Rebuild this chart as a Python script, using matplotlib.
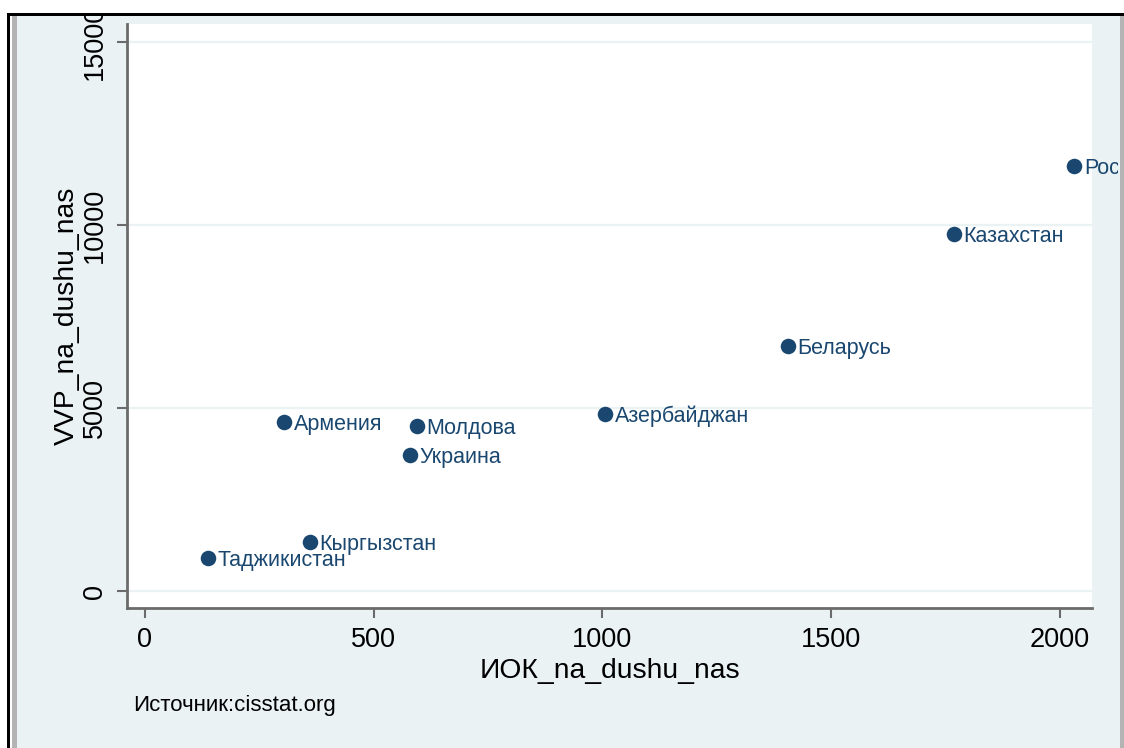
# Scatter of GDP per capita vs fixed capital investment per capita (CIS countries)

import matplotlib.pyplot as plt
from matplotlib.patches import Rectangle

# data
countries = ['Таджикистан', 'Кыргызстан', 'Армения', 'Молдова', 'Украина',
             'Азербайджан', 'Беларусь', 'Казахстан', 'Россия']
iok = [138, 361, 304, 595, 580, 1006, 1406, 1769, 2032]
vvp = [900, 1340, 4620, 4510, 3720, 4840, 6690, 9750, 11610]

x_ticks = [0, 500, 1000, 1500, 2000]
y_ticks = [0, 5000, 10000, 15000]

W, H = 1124, 748
navy = '#1a476f'
bg = '#eaf2f3'
axis_gray = '#6b6b6b'

plt.rcParams['font.family'] = ['Liberation Sans', 'DejaVu Sans']

fig = plt.figure(figsize=(W / 100, H / 100), dpi=100)
fig.patch.set_facecolor(bg)

# plot region in pixels: left 127, right 1092, top 24, bottom 608
ax = fig.add_axes([127 / W, 1 - 608 / H, (1092 - 127) / W, (608 - 24) / H])
ax.set_facecolor('white')

ax.set_xlim(-39, 2071)
ax.set_ylim(-464, 15492)

for yv in y_ticks:
    ax.axhline(yv, color=bg, lw=1.6, zorder=1)

ax.scatter(iok, vvp, s=125, color=navy, zorder=3, linewidths=0)
for name, xv, yv in zip(countries, iok, vvp):
    ax.annotate(name, (xv, yv), xytext=(7, -2), textcoords='offset points',
                ha='left', va='center', fontsize=15.5, color=navy,
                annotation_clip=False, zorder=4)

ax.set_xticks(x_ticks)
ax.set_yticks(y_ticks)
ax.set_yticklabels([str(v) for v in y_ticks], rotation=90, va='center')
ax.tick_params(axis='both', direction='out', length=7, width=1.5,
               color=axis_gray, labelsize=19.5, pad=7)

for s in ['top', 'right']:
    ax.spines[s].set_visible(False)
for s in ['left', 'bottom']:
    ax.spines[s].set_color(axis_gray)
    ax.spines[s].set_linewidth(2)

ax.set_xlabel('ИОК_na_dushu_nas', fontsize=20.3, labelpad=3)
ax.set_ylabel('VVP_na_dushu_nas', fontsize=20.3, labelpad=1)

fig.text(133 / W, 1 - 705 / H, 'Источник:cisstat.org', fontsize=16,
         ha='left', va='center')

# frame of the cropped screenshot
def px_rect(x0, y0, x1, y1, color, z=10):
    fig.add_artist(Rectangle((x0 / W, 1 - y1 / H), (x1 - x0) / W, (y1 - y0) / H,
                             transform=fig.transFigure, color=color,
                             lw=0, zorder=z))

px_rect(0, 0, W, 13, 'white')
px_rect(0, 0, 7, H, 'white')
px_rect(7, 13, W, 15.5, 'black')
px_rect(7, 13, 9.5, H, 'black')
px_rect(9.5, 15.5, 12, H, 'white')
px_rect(12, 15.5, 17, H, '#b4b4b4')
px_rect(1118, 15.5, W, H, bg)
px_rect(1120, 15.5, W, H, '#b4b4b4')

fig.savefig('out.png', dpi=100, facecolor=fig.get_facecolor())
